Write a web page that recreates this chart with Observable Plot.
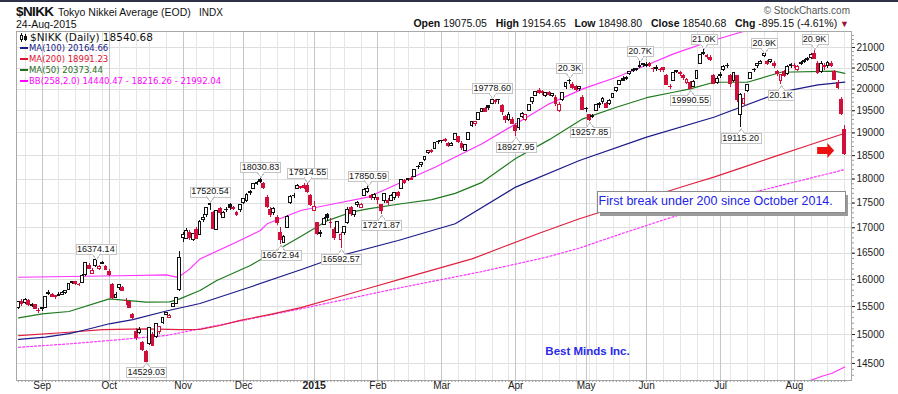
<!DOCTYPE html>
<html><head><meta charset="utf-8">
<script src="https://cdn.jsdelivr.net/npm/d3@7"></script>
<script src="https://cdn.jsdelivr.net/npm/@observablehq/plot@0.6"></script>
<style>
html,body{margin:0;padding:0;background:#fff}
#wrap{position:relative;width:898px;height:394px;overflow:hidden;background:#fff;font-family:"Liberation Sans",Arial,sans-serif;color:#111}
.abs{position:absolute;white-space:nowrap;line-height:1}
#topbar{position:absolute;left:0;top:0;width:898px;height:2px;background:#2f3148}
#chart{position:absolute;left:0;top:29px}
#legend{position:absolute;left:20px;top:31px;font-family:"DejaVu Sans",Verdana,sans-serif;font-size:8.5px;line-height:11px;white-space:nowrap}
#legend .sw{display:inline-block;width:8px;height:2px;margin-right:1px;vertical-align:middle;position:relative;top:-1px}
</style></head><body>
<div id="wrap">
  <div id="topbar"></div>
  <div class="abs" style="left:16px;top:5px;font-weight:bold;font-size:13.5px;letter-spacing:-0.6px">$NIKK</div>
  <div class="abs" style="left:58px;top:7px;font-size:10.5px">Tokyo Nikkei Average (EOD)</div>
  <div class="abs" style="left:199px;top:7.5px;font-size:10px">INDX</div>
  <div class="abs" id="dateLine" style="left:16px;top:18.5px;font-size:10.5px"></div>
  <div class="abs" style="right:48px;top:6px;font-size:10px;color:#555">© StockCharts.com</div>
  <div class="abs" id="ohlcLine" style="right:49px;top:18.4px;font-size:10.5px"></div>
  <div id="chart"></div>
  <div id="legend"></div>
</div>
<script>
// ---------- header values ----------
const lastDate = "24-Aug-2015";
const statNames = ["Open", "High", "Low", "Close", "Chg"];
const statValues = ["19075.05", "19154.65", "18498.80", "18540.68", "-895.15 (-4.61%)"];

// ---------- legend ----------
const legendTitle = "$NIKK (Daily) 18540.68";
const legendNames = ["MA(100) 20164.66", "MA(200) 18991.23", "MA(50) 20373.44", "BB(258,2.0) 14440.47 - 18216.26 - 21992.04"];
const legendColors = ["#1a1a8a", "#dd1133", "#1f6f1f", "#ff00ff"];

// ---------- daily candles: [day, open, high, low, close] ----------
const aug2014 = [[21,15470,15600,15450,15586],[22,15580,15620,15500,15539],[25,15560,15640,15540,15613],[26,15600,15620,15500,15521],[27,15510,15560,15490,15534],[28,15530,15540,15440,15459],[29,15420,15460,15380,15425]];
const sep2014 = [[1,15450,15490,15410,15476],[2,15480,15680,15470,15668],[3,15740,15790,15700,15728],[4,15720,15740,15660,15676],[5,15690,15710,15620,15668],[8,15700,15760,15680,15705],[9,15720,15780,15700,15749],[10,15740,15800,15720,15788],[11,15800,15920,15790,15909],[12,15930,15960,15900,15948],[16,15950,15960,15880,15911],[17,15900,15920,15860,15888],[18,15930,16090,15920,16067],[19,16080,16330,16060,16321],[22,16260,16300,16180,16205],[24,16110,16200,16090,16167],[25,16250,16374,16230,16374],[26,16200,16260,16160,16229],[29,16290,16340,16280,16310],[30,16240,16260,16160,16173]];
const oct2014 = [[1,16150,16180,16060,16082],[2,15900,15920,15620,15661],[3,15660,15750,15650,15708],[6,15850,15900,15800,15891],[7,15850,15870,15770,15783],[8,15600,15640,15520,15595],[9,15580,15600,15470,15478],[10,15350,15380,15270,15300],[14,15050,15100,14900,14936],[15,15030,15120,15000,15073],[16,14850,14880,14700,14738],[17,14700,14720,14529,14532],[20,14830,15130,14800,15111],[21,15000,15040,14790,14804],[22,14950,15200,14930,15195],[23,15050,15150,15000,15138],[24,15200,15300,15180,15291],[27,15350,15400,15330,15388],[28,15300,15360,15290,15329],[29,15500,15560,15480,15553],[30,15540,15670,15530,15658],[31,15800,16533,15780,16413]];
const nov2014 = [[4,16800,16900,16700,16862],[5,16780,16980,16770,16937],[6,16900,16950,16750,16792],[7,16750,16890,16720,16880],[10,16950,17000,16760,16780],[11,16850,17140,16840,17124],[12,17150,17260,17100,17197],[13,17250,17410,17200,17392],[14,17450,17520,17350,17490],[17,17300,17320,16970,16973],[18,16950,17350,16940,17344],[19,17380,17400,17250,17288],[20,17200,17330,17190,17300],[21,17350,17400,17300,17357],[25,17450,17500,17350,17407],[26,17400,17430,17340,17383],[27,17300,17330,17230,17248],[28,17350,17470,17300,17459]];
const dec2014 = [[1,17500,17600,17470,17590],[2,17550,17700,17520,17663],[3,17700,17760,17650,17720],[4,17800,17900,17780,17887],[5,17900,17950,17860,17920],[8,17980,18031,17900,17935],[9,17900,17920,17780,17813],[10,17600,17650,17380,17412],[11,17350,17400,17200,17257],[12,17300,17400,17250,17371],[15,17200,17250,17050,17099],[16,16900,17000,16673,16755],[17,16700,16850,16680,16819],[18,17000,17250,16980,17210],[19,17500,17650,17480,17621],[22,17650,17700,17600,17635],[24,17800,17880,17780,17854],[25,17830,17850,17780,17818],[26,17850,17900,17790,17808],[29,17850,17914,17700,17730],[30,17650,17680,17420,17451]];
const jan2015 = [[5,17330,17540,17320,17409],[6,17100,17110,16850,16883],[7,16900,16950,16810,16885],[8,17050,17200,17040,17167],[9,17250,17290,17120,17198],[13,17100,17180,16990,17088],[14,16950,17000,16750,16796],[15,16900,17120,16880,17108],[16,16750,16900,16593,16864],[19,16900,17030,16850,17014],[20,17100,17400,17060,17366],[21,17400,17420,17220,17280],[22,17250,17350,17200,17329],[23,17450,17530,17400,17511],[26,17400,17500,17380,17468],[27,17650,17800,17640,17768],[28,17720,17851,17700,17796],[29,17650,17680,17550,17606],[30,17600,17700,17550,17674]];
const feb2015 = [[2,17600,17620,17480,17558],[3,17450,17460,17272,17336],[4,17550,17700,17500,17678],[5,17550,17600,17450,17504],[6,17550,17680,17540,17648],[9,17600,17720,17560,17711],[10,17700,17730,17600,17652],[12,17800,17990,17780,17979],[13,17950,17980,17880,17913],[16,17980,18020,17950,18004],[17,18000,18050,17960,17987],[18,18050,18210,18040,18199],[19,18250,18290,18200,18264],[20,18300,18340,18250,18332],[23,18400,18470,18380,18466],[24,18550,18620,18520,18603],[25,18600,18640,18550,18585],[26,18650,18790,18640,18785],[27,18800,18830,18740,18798]];
const mar2015 = [[2,18830,18840,18760,18826],[3,18850,18880,18780,18815],[4,18760,18790,18670,18703],[5,18720,18780,18700,18751],[6,18850,18980,18830,18971],[9,18900,18920,18770,18790],[10,18750,18800,18620,18665],[11,18600,18730,18580,18723],[12,18850,19000,18840,18991],[13,19150,19260,19120,19254],[16,19200,19260,19150,19246],[17,19300,19450,19280,19437],[18,19480,19560,19450,19544],[19,19550,19580,19450,19476],[20,19600,19620,19500,19560],[23,19650,19779,19640,19754],[24,19700,19750,19650,19713],[25,19750,19760,19650,19746],[26,19600,19650,19400,19471],[27,19350,19400,19200,19285],[30,19300,19450,19250,19411],[31,19300,19350,19200,19207]];
const apr2015 = [[1,19150,19200,18928,19034],[2,19100,19330,19050,19312],[3,19350,19450,19330,19435],[6,19300,19420,19250,19397],[7,19500,19650,19480,19640],[8,19700,19800,19650,19789],[9,19850,19950,19820,19937],[10,19950,20006,19880,19907],[13,19930,19960,19850,19905],[14,19850,19920,19800,19908],[15,19900,19950,19820,19869],[16,19850,19900,19800,19885],[17,19800,19850,19600,19652],[20,19500,19680,19450,19634],[21,19750,19920,19720,19909],[22,20050,20150,20000,20133],[23,20200,20253,20120,20187],[24,20100,20150,19980,20020],[27,20050,20080,19950,19983],[28,20000,20070,19950,20058],[30,19800,19850,19500,19520]];
const may2015 = [[1,19550,19580,19450,19531],[7,19400,19420,19258,19292],[8,19350,19420,19320,19379],[11,19500,19650,19480,19620],[12,19650,19700,19550,19624],[13,19700,19800,19650,19765],[14,19650,19700,19550,19570],[15,19650,19750,19620,19732],[18,19800,19900,19780,19890],[19,19950,20050,19930,20026],[20,20100,20200,20080,20196],[21,20250,20300,20180,20202],[22,20250,20300,20200,20264],[25,20350,20420,20330,20413],[26,20450,20480,20400,20437],[27,20450,20500,20420,20472],[28,20530,20655,20500,20551],[29,20600,20620,20520,20563]];
const jun2015 = [[1,20550,20640,20520,20569],[2,20600,20630,20520,20543],[3,20480,20520,20400,20473],[4,20500,20550,20420,20488],[5,20450,20500,20400,20460],[8,20500,20520,20400,20457],[9,20300,20350,20080,20096],[10,20050,20100,19990,20046],[11,20200,20400,20180,20382],[12,20420,20450,20370,20407],[15,20350,20420,20300,20387],[16,20300,20350,20200,20257],[17,20150,20250,20100,20219],[18,20150,20180,19991,20000],[19,20050,20200,20030,20174],[22,20250,20450,20240,20428],[23,20600,20820,20580,20809],[24,20850,20953,20800,20868],[25,20800,20830,20700,20771],[26,20750,20800,20650,20706],[29,20300,20350,20100,20109],[30,20150,20300,20100,20235]];
const jul2015 = [[1,20300,20400,20250,20329],[2,20450,20550,20420,20522],[3,20550,20600,20500,20539],[6,20300,20350,20050,20112],[7,20200,20400,20150,20376],[8,20300,20320,19700,19737],[9,19400,19900,19115,19855],[10,19650,19900,19600,19779],[13,19950,20100,19920,20089],[14,20250,20400,20220,20385],[15,20450,20500,20400,20463],[16,20550,20620,20500,20600],[17,20600,20680,20580,20650],[21,20800,20850,20750,20841],[22,20650,20680,20550,20593],[23,20650,20700,20600,20683],[24,20600,20650,20500,20544],[27,20400,20450,20300,20350],[28,20200,20350,20105,20328],[29,20400,20450,20280,20302],[30,20350,20550,20330,20522],[31,20550,20600,20500,20585]];
const aug2015 = [[3,20550,20600,20480,20548],[4,20450,20560,20420,20520],[5,20600,20650,20550,20614],[6,20650,20700,20600,20664],[7,20700,20750,20650,20724],[10,20750,20850,20700,20808],[11,20850,20947,20700,20720],[12,20600,20650,20350,20392],[13,20400,20650,20380,20595],[14,20550,20600,20450,20519],[17,20550,20650,20500,20620],[18,20600,20650,20520,20554],[19,20400,20450,20200,20222],[20,20150,20200,20000,20033],[21,19750,19800,19400,19435],[24,19075,19155,18499,18541]];
const monthBlocks = [["2014-08",aug2014],["2014-09",sep2014],["2014-10",oct2014],["2014-11",nov2014],["2014-12",dec2014],["2015-01",jan2015],["2015-02",feb2015],["2015-03",mar2015],["2015-04",apr2015],["2015-05",may2015],["2015-06",jun2015],["2015-07",jul2015],["2015-08",aug2015]];
const priorClose = 15454;
const monthNames = ["Sep","Oct","Nov","Dec","2015","Feb","Mar","Apr","May","Jun","Jul","Aug"];

// ---------- indicator lines: [trading day number, value] ----------
const ma200Pts = [[0,14980],[15,15040],[25,15085],[38,15100],[48,15085],[54,15090],[60,15160],[66,15250],[75,15360],[84,15480],[95,15670],[105,15850],[115,16030],[125,16210],[135,16390],[145,16640],[155,16890],[167,17180],[180,17460],[190,17670],[200,17890],[207,18040],[215,18230],[225,18480],[235,18720],[246,18991]];
const ma100Pts = [[0,14915],[8,14955],[15,15015],[20,15085],[27,15190],[34,15265],[44,15420],[54,15556],[69,15860],[84,16183],[96,16456],[113,16748],[130,17080],[148,17830],[167,18394],[187,18905],[207,19352],[227,19930],[238,20100],[246,20165]];
const ma50Pts = [[0,15297],[7,15368],[15,15410],[27,15641],[38,15580],[45,15585],[48,15641],[54,15794],[59,15981],[69,16264],[84,16828],[92,17144],[99,17313],[104,17380],[114,17485],[123,17570],[130,17700],[138,17930],[148,18440],[158,18850],[168,19316],[178,19580],[187,19800],[195,19927],[200,20006],[207,20162],[217,20162],[227,20400],[243,20425],[246,20373]];
const bbUpperPts = [[0,16042],[30,16070],[44,16088],[47,16045],[48,16060],[51,16200],[54,16390],[64,16689],[72,16945],[74,17079],[84,17348],[94,17485],[104,17620],[114,17932],[124,18251],[129,18432],[138,18758],[148,19201],[158,19658],[168,20006],[178,20281],[188,20603],[195,20845],[205,21131],[215,21380],[225,21600],[235,21800],[246,21992]];
const bbMidPts = [[0,14777],[15,14837],[27,14895],[44,14983],[54,15101],[69,15277],[84,15459],[114,15850],[138,16150],[157,16420],[167,16600],[179,16870],[193,17179],[217,17690],[246,18200]];
const bbLowerPts = [[230,14120],[235.7,14213],[239.2,14284],[242.2,14335],[246,14440]];

// ---------- annotations ----------
const priceLabels = [
  {date:"2014-09-25", value:16374.14, text:"16374.14", pos:"above"},
  {date:"2014-10-17", value:14529.03, text:"14529.03", pos:"below"},
  {date:"2014-11-14", value:17520.54, text:"17520.54", pos:"above"},
  {date:"2014-12-08", value:18030.83, text:"18030.83", pos:"above"},
  {date:"2014-12-16", value:16672.94, text:"16672.94", pos:"below"},
  {date:"2014-12-29", value:17914.55, text:"17914.55", pos:"above"},
  {date:"2015-01-16", value:16592.57, text:"16592.57", pos:"below"},
  {date:"2015-01-28", value:17850.59, text:"17850.59", pos:"above"},
  {date:"2015-02-03", value:17271.87, text:"17271.87", pos:"below"},
  {date:"2015-03-23", value:19778.60, text:"19778.60", pos:"above"},
  {date:"2015-04-01", value:18927.95, text:"18927.95", pos:"below"},
  {date:"2015-04-23", value:20253, text:"20.3K", pos:"above"},
  {date:"2015-05-07", value:19257.85, text:"19257.85", pos:"below"},
  {date:"2015-05-28", value:20655, text:"20.7K", pos:"above"},
  {date:"2015-06-18", value:19990.55, text:"19990.55", pos:"below"},
  {date:"2015-06-24", value:20953, text:"21.0K", pos:"above"},
  {date:"2015-07-09", value:19115.20, text:"19115.20", pos:"below"},
  {date:"2015-07-21", value:20850, text:"20.9K", pos:"above"},
  {date:"2015-07-28", value:20105, text:"20.1K", pos:"below"},
  {date:"2015-08-11", value:20947, text:"20.9K", pos:"above"}
];
const noteText = [{day:172.7, value:17537, text:"First break under 200 since October 2014."}];
const brandText = [{day:169.4, value:14705, text:"Best Minds Inc."}];
const arrowPoint = [{day:240.3, value:18610}];
const yTicks = [14500,15000,15500,16000,16500,17000,17500,18000,18500,19000,19500,20000,20500,21000];

// ---------- build ----------
const RED = "#d0103a";
const candles = [];
for (const [ym, rows] of monthBlocks) for (const [d,o,h,l,c] of rows) candles.push({date:`${ym}-${String(d).padStart(2,"0")}`, o,h,l,c});
candles.forEach((k,i) => {
  k.i = i;
  const prev = i ? candles[i-1].c : priorClose;
  k.color = k.c >= prev ? "#111" : RED;
  k.fill = k.c >= k.o ? "#fff" : k.color;
});
const idxOf = new Map(candles.map(k => [k.date, k.i]));
const monthTicks = [];
const weekTicks = [];
candles.forEach((k,i) => {
  if (i === 0) return;
  const p = candles[i-1];
  if (k.date.slice(0,7) !== p.date.slice(0,7)) monthTicks.push({i, label: monthNames[monthTicks.length]});
  const wd = new Date(k.date + "T00:00:00Z").getUTCDay(), pwd = new Date(p.date + "T00:00:00Z").getUTCDay();
  const gap = (new Date(k.date) - new Date(p.date)) / 864e5;
  if (wd <= pwd || gap >= 7) weekTicks.push(i);
});
const labels = priceLabels.map(d => ({...d, i: idxOf.get(d.date)}));
const above = labels.filter(d => d.pos === "above");
const below = labels.filter(d => d.pos === "below");

const blockArrow = {draw(ctx, size) {
  const s = Math.sqrt(size) / 2;
  ctx.moveTo(-s, -0.41*s); ctx.lineTo(0.2*s, -0.41*s); ctx.lineTo(0.2*s, -0.88*s); ctx.lineTo(s, 0);
  ctx.lineTo(0.2*s, 0.88*s); ctx.lineTo(0.2*s, 0.41*s); ctx.lineTo(-s, 0.41*s); ctx.closePath();
}};

const lineOpts = (color, extra={}) => ({x: d => d[0], y: d => d[1], stroke: color, strokeWidth: 1.2, clip: true, ...extra});

const plot = Plot.plot({
  width: 898, height: 365,
  marginTop: 2, marginBottom: 14, marginLeft: 16, marginRight: 47,
  x: {type: "linear", domain: [-0.63, 248.0]},
  y: {type: "log", domain: [14213, 21398]},
  style: {fontFamily: "'Liberation Sans', Arial, sans-serif", fontSize: "10px", background: "#fff", color: "#222", overflow: "visible"},
  marks: [
    Plot.ruleY(yTicks, {stroke: "#dedede", strokeWidth: 1, shapeRendering: "crispEdges"}),
    Plot.ruleX(weekTicks, {stroke: "#e6e6e6", strokeWidth: 1, shapeRendering: "crispEdges"}),
    Plot.ruleX(monthTicks, {x: "i", stroke: "#c6c6c6", strokeWidth: 1, shapeRendering: "crispEdges"}),
    Plot.line(bbMidPts, lineOpts("#ff33ff", {strokeDasharray: "2,2"})),
    Plot.line(bbUpperPts, lineOpts("#ff33ff")),
    Plot.line(bbLowerPts, lineOpts("#ff33ff")),
    Plot.line(ma200Pts, lineOpts("#e0203f")),
    Plot.line(ma100Pts, lineOpts("#1a1a8a")),
    Plot.line(ma50Pts, lineOpts("#1f7a1f")),
    Plot.ruleX(candles, {x: "i", y1: "l", y2: "h", stroke: "color", strokeWidth: 1, shapeRendering: "crispEdges"}),
    Plot.rect(candles, {x1: d => d.i - 0.42, x2: d => d.i + 0.42, y1: "o", y2: "c", fill: "fill", stroke: "color", strokeWidth: 1, shapeRendering: "crispEdges"}),
    Plot.dot(arrowPoint, {x: "day", y: "value", r: 9.6, symbol: blockArrow, fill: "#ee1111", stroke: "none"}),
    Plot.text(above, {x: "i", y: "value", text: "text", dy: -10.5, fontSize: 9, fill: "#111"}),
    Plot.text(below, {x: "i", y: "value", text: "text", dy: 10.5, fontSize: 9, fill: "#111"}),
    Plot.text(noteText, {x: "day", y: "value", text: "text", textAnchor: "start", fontSize: 12.5, fill: "#2323e6"}),
    Plot.text(brandText, {x: "day", y: "value", text: "text", fontSize: 11.5, fontWeight: "bold", fill: "#2a2ae8"}),
    Plot.frame({stroke: "#a8a8a8"}),
    Plot.axisY({ticks: d3.range(14300, 21400, 100), anchor: "right", tickSize: 2, tickFormat: () => "", stroke: "#999"}),
    Plot.axisY({ticks: yTicks, anchor: "right", tickSize: 3, tickPadding: 2, tickFormat: d => d.toFixed(0), fontSize: 10}),
    Plot.axisX({ticks: candles.map(d => d.i), anchor: "bottom", tickSize: 2, tickFormat: () => "", stroke: "#999"}),
    Plot.text(monthTicks.filter(d => d.label !== "2015"), {x: "i", text: "label", frameAnchor: "bottom", dy: 8.5, fontSize: 10, fill: "#222"}),
    Plot.text(monthTicks.filter(d => d.label === "2015"), {x: "i", text: "label", frameAnchor: "bottom", dy: 8.5, fontSize: 10.5, fontWeight: "bold", fill: "#222"})
  ]
});
document.getElementById("chart").appendChild(plot);

// ---------- boxes around annotations ----------
const NS = "http://www.w3.org/2000/svg";
function el(name, attrs) { const e = document.createElementNS(NS, name); for (const k in attrs) e.setAttribute(k, attrs[k]); return e; }
const posByText = new Map(priceLabels.map(d => [d.text, d.pos]));
plot.querySelectorAll("text").forEach(t => {
  const txt = t.textContent;
  const pos = posByText.get(txt);
  const isNote = txt === noteText[0].text;
  if (!pos && !isNote) return;
  const b = t.getBBox();
  const tr = t.getAttribute("transform");
  const g = el("g", tr ? {transform: tr} : {});
  g.setAttribute("shape-rendering", "crispEdges");
  if (isNote) {
    const x0 = Math.round(b.x - 2.5) + 0.5, x1 = Math.round(b.x + b.width + 12) + 0.5;
    const y0 = Math.round(b.y - 3.5) + 0.5, y1 = Math.round(b.y + b.height + 3.5) + 0.5;
    g.appendChild(el("rect", {x: x0 + 3, y: y0 + 3, width: x1 - x0, height: y1 - y0, fill: "#9a9a9a"}));
    g.appendChild(el("rect", {x: x0, y: y0, width: x1 - x0, height: y1 - y0, fill: "#fff", stroke: "#8c8c8c"}));
  } else {
    const x0 = Math.round(b.x - 1.5) + 0.5, x1 = Math.round(b.x + b.width + 1.5) + 0.5;
    const y0 = Math.round(b.y + 0.3) + 0.5, y1 = Math.round(b.y + b.height - 0.3) + 0.5;
    const cx = Math.round(b.x + b.width / 2) + 0.5;
    g.appendChild(el("rect", {x: x0, y: y0, width: x1 - x0, height: y1 - y0, fill: "#fff", stroke: "#c4c4c4"}));
    const d = pos === "above"
      ? `M${cx-4},${y1-0.6}L${cx},${y1+5}L${cx+4},${y1-0.6}`
      : `M${cx-4},${y0+0.6}L${cx},${y0-5}L${cx+4},${y0+0.6}`;
    g.appendChild(el("path", {d, fill: "#fff", stroke: "#c4c4c4"}));
  }
  t.parentNode.insertBefore(g, t);
});

// ---------- header & legend ----------
document.getElementById("dateLine").textContent = lastDate;
document.getElementById("ohlcLine").innerHTML = statNames.map((n, k) => `<b>${n}</b> ${statValues[k]}`).join("&nbsp;&nbsp; ") + ` <span style="color:#a01030;font-size:9px">▼</span>`;
const icon = `<svg width="8" height="9" style="vertical-align:middle;position:relative;top:-1px;margin-right:2px"><line x1="1.5" y1="0" x2="1.5" y2="9" stroke="#111"/><rect x="0.5" y="2.5" width="2" height="4" fill="#fff" stroke="#111"/><line x1="5.5" y1="1" x2="5.5" y2="8" stroke="#111"/><rect x="4.5" y="3.5" width="2" height="3" fill="#111" stroke="#111"/></svg>`;
document.getElementById("legend").innerHTML =
  `<div style="font-size:10.5px;line-height:12px;color:#111">${icon}${legendTitle}</div>` +
  legendNames.map((n, k) => `<div style="color:${legendColors[k]}"><span class="sw" style="background:${legendColors[k]}"></span>${n}</div>`).join("");
</script>
</body></html>
